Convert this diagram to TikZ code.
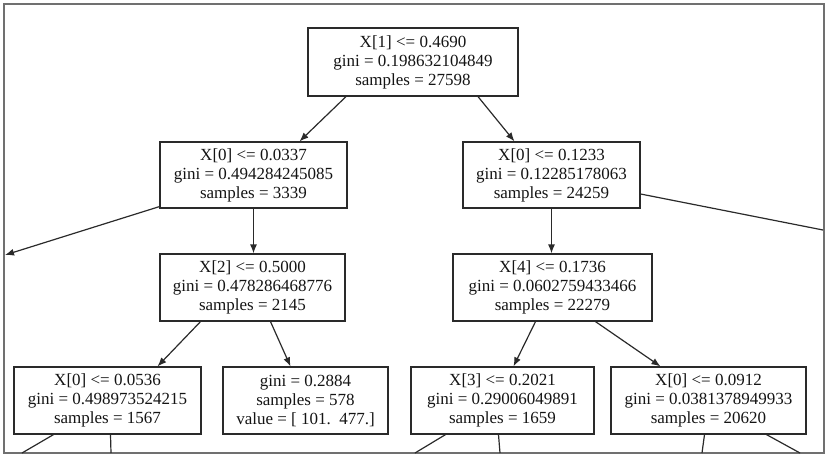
\documentclass[tikz,border=0pt]{standalone}
\usepackage{fontspec}
\setmainfont{Liberation Serif}
\usetikzlibrary{arrows.meta,calc}
\definecolor{edgec}{HTML}{2A2A2A}
\definecolor{framec}{HTML}{707070}
\tikzset{
  tnode/.style={draw=edgec, line width=1.2pt, rectangle, align=center, inner sep=0pt,
    font=\fontsize{17}{19}\selectfont, text=black!92},
  tedge/.style={draw=edgec, line width=1.2pt, -{Latex[length=9pt,width=7pt]}},
  tline/.style={draw=edgec, line width=1.2pt},
}
\begin{document}
\begin{tikzpicture}[x=1pt,y=-1pt]
\useasboundingbox (0,0) rectangle (831,461);
\draw[framec, line width=1.6pt] (4,4) rectangle (824,453);

\node[tnode, minimum width=210pt, minimum height=68pt] (root) at (413,62)
  {X[1] <= 0.4690\\gini = 0.198632104849\\samples = 27598};
\node[tnode, minimum width=187pt, minimum height=66pt] (n1) at (253.5,175)
  {X[0] <= 0.0337\\gini = 0.494284245085\\samples = 3339};
\node[tnode, minimum width=177pt, minimum height=66pt] (n2) at (551.5,175)
  {X[0] <= 0.1233\\gini = 0.12285178063\\samples = 24259};
\node[tnode, minimum width=185pt, minimum height=67pt] (n3) at (252.5,287.5)
  {X[2] <= 0.5000\\gini = 0.478286468776\\samples = 2145};
\node[tnode, minimum width=199pt, minimum height=67pt] (n4) at (552.5,287.5)
  {X[4] <= 0.1736\\gini = 0.0602759433466\\samples = 22279};
\node[tnode, minimum width=187pt, minimum height=67pt] (n5) at (107.5,400.5)
  {X[0] <= 0.0536\\gini = 0.498973524215\\samples = 1567};
\node[tnode, minimum width=165pt, minimum height=67pt] (n6) at (305.5,400.5)
  {gini = 0.2884\\samples = 578\\value = [ 101.\ \ 477.]};
\node[tnode, minimum width=183pt, minimum height=67pt] (n7) at (502.5,400.5)
  {X[3] <= 0.2021\\gini = 0.29006049891\\samples = 1659};
\node[tnode, minimum width=195pt, minimum height=67pt] (n8) at (708.5,400.5)
  {X[0] <= 0.0912\\gini = 0.0381378949933\\samples = 20620};

% off-picture ends
\coordinate (offL) at (5,255);
\coordinate (offR) at (823,230);
\coordinate (b5a) at (22,453);
\coordinate (b5b) at (111,453);
\coordinate (b7a) at (415,453);
\coordinate (b7b) at (500,453);
\coordinate (b8a) at (702,453);
\coordinate (b8b) at (800,453);

\draw[tedge] ($(root.south)+(-67,0)$) -- ($(n1.north)+(46,0)$);
\draw[tedge] ($(root.south)+(65,0)$) -- ($(n2.north)+(-37,0)$);
\draw[tedge] ($(n1.south west)+(0,-2)$) -- (offL);
\draw[tedge] (n1.south) -- (n1.south |- n3.north);
\draw[tline] ($(n2.east)+(0,19)$) -- (offR);
\draw[tedge] (n2.south) -- (n2.south |- n4.north);
\draw[tedge] ($(n3.south)+(-52,0)$) -- ($(n5.north)+(50,0)$);
\draw[tedge] ($(n3.south)+(18,0)$) -- ($(n6.north)+(-15,0)$);
\draw[tedge] ($(n4.south)+(-17,0)$) -- ($(n7.north)+(11,0)$);
\draw[tedge] ($(n4.south)+(43,0)$) -- ($(n8.north)+(-48,0)$);
\draw[tline] ($(n5.south)+(-54,0)$) -- (b5a);
\draw[tline] ($(n5.south)+(3,0)$) -- (b5b);
\draw[tline] ($(n7.south)+(-57,0)$) -- (b7a);
\draw[tline] ($(n7.south)+(-4,0)$) -- (b7b);
\draw[tline] ($(n8.south)+(-4,0)$) -- (b8a);
\draw[tline] ($(n8.south)+(58,0)$) -- (b8b);
\end{tikzpicture}
\end{document}
